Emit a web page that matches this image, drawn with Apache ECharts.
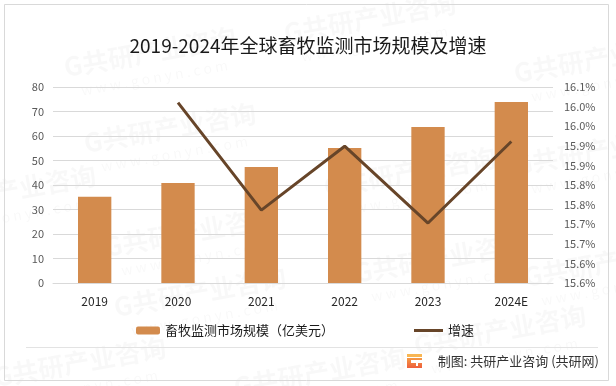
<!DOCTYPE html>
<html><head><meta charset="utf-8">
<script src="https://cdn.jsdelivr.net/npm/echarts@6/dist/echarts.min.js"></script>
<style>html,body{margin:0;padding:0;background:#fff}#c{width:616px;height:386px}</style>
</head><body><div id="c"></div>
<script>
const categories = ['2019', '2020', '2021', '2022', '2023', '2024E'];
const marketSize = [35.2, 40.8, 47.3, 55.1, 63.7, 73.9];
const growthRate = [null, 16.06, 15.786, 15.949, 15.753, 15.961];
const rightTickLabels = ['15.6%', '15.6%', '15.7%', '15.7%', '15.8%', '15.8%', '15.9%', '15.9%', '16.0%', '16.0%', '16.1%'];
const barName = '畜牧监测市场规模（亿美元）';
const lineName = '增速';

const FONT = '"Noto Sans CJK SC", sans-serif';
const chart = echarts.init(document.getElementById('c'), null, { renderer: 'canvas' });

// faint watermark tiles
const wm = [];
const wmPos = [[150, 52], [370, 18], [600, 58], [170, 128], [410, 172], [10, 190], [190, 232], [440, 258], [200, 292], [600, 150], [610, 262], [500, 330], [80, 362], [320, 372]];
wmPos.forEach(p => {
  wm.push({
    type: 'group', x: p[0], y: p[1], rotation: 10 * Math.PI / 180, z: -10, silent: true,
    children: [
      { type: 'text', style: { text: 'G共研产业咨询', x: 0, y: 0, fill: 'rgba(0,0,0,0.028)', font: 'bold 26px ' + FONT, textAlign: 'center', textVerticalAlign: 'middle' } },
      { type: 'text', style: { text: 'w w w . g o n y n . c o m', x: 0, y: 26, fill: 'rgba(0,0,0,0.028)', font: '14px ' + FONT, textAlign: 'center', textVerticalAlign: 'middle' } }
    ]
  });
});

chart.setOption({
  animation: false,
  backgroundColor: '#fff',
  textStyle: { fontFamily: FONT },
  title: {
    text: '2019-2024年全球畜牧监测市场规模及增速',
    left: 'center', top: 31,
    textStyle: { fontSize: 19, fontWeight: 'normal', color: '#1a1a1a', fontFamily: FONT }
  },
  legend: [
    { data: [barName], left: 131, top: 319, itemWidth: 24, itemHeight: 8, itemGap: 5,
      textStyle: { fontSize: 13, color: '#1a1a1a', fontFamily: FONT } },
    { data: [{ name: lineName, icon: 'rect' }], left: 409, top: 319, itemWidth: 29, itemHeight: 3, itemGap: 5,
      textStyle: { fontSize: 13, color: '#1a1a1a', fontFamily: FONT } }
  ],
  grid: { left: 53, right: 63, top: 87, bottom: 103, containLabel: false },
  xAxis: {
    type: 'category', data: categories,
    axisLine: { show: true, lineStyle: { color: '#d9d9d9' } },
    axisTick: { show: false },
    axisLabel: { color: '#262626', fontSize: 12, margin: 12, fontFamily: FONT }
  },
  yAxis: [
    { type: 'value', min: 0, max: 80, interval: 10,
      axisLine: { show: false }, axisTick: { show: false },
      splitLine: { lineStyle: { color: '#d9d9d9' } },
      axisLabel: { color: '#595959', fontSize: 11, margin: 9, fontFamily: FONT } },
    { type: 'value', min: 15.6, max: 16.1, interval: 0.05,
      axisLine: { show: false }, axisTick: { show: false }, splitLine: { show: false },
      axisLabel: { color: '#595959', fontSize: 11, margin: 11, fontFamily: FONT,
        formatter: (v, i) => rightTickLabels[i] || '' } }
  ],
  series: [
    { name: barName, type: 'bar', data: marketSize, barWidth: '40%', yAxisIndex: 0,
      itemStyle: { color: '#d38b4d' } },
    { name: lineName, type: 'line', data: growthRate, yAxisIndex: 1, symbol: 'none',
      lineStyle: { color: '#674529', width: 3 }, itemStyle: { color: '#674529' }, z: 5 }
  ],
  graphic: wm.concat([
    { type: 'rect', shape: { x: 4.5, y: 4.5, width: 604, height: 376 }, style: { fill: 'none', stroke: '#d9d9d9', lineWidth: 1 }, silent: true },
    { type: 'line', shape: { x1: 26, y1: 347.5, x2: 598, y2: 347.5 }, style: { stroke: '#e3e3e3', lineWidth: 1 }, silent: true },
    { type: 'rect', shape: { x: 407, y: 354, width: 15, height: 3 }, style: { fill: '#f8b653' }, silent: true },
    { type: 'rect', shape: { x: 407, y: 358, width: 15, height: 10 },
      style: { fill: new echarts.graphic.LinearGradient(0, 0, 0, 1, [{ offset: 0, color: '#f59a44' }, { offset: 1, color: '#ee5f3c' }]) }, silent: true },
    { type: 'rect', shape: { x: 411, y: 360, width: 11, height: 3 }, style: { fill: '#fff' }, silent: true },
    { type: 'rect', shape: { x: 416, y: 363, width: 2, height: 3 }, style: { fill: '#fff' }, silent: true },
    { type: 'text', style: { text: '制图: 共研产业咨询 (共研网)', x: 599, y: 361, textAlign: 'right', textVerticalAlign: 'middle', fill: '#333', font: '13px ' + FONT }, silent: true }
  ])
});
</script></body></html>
